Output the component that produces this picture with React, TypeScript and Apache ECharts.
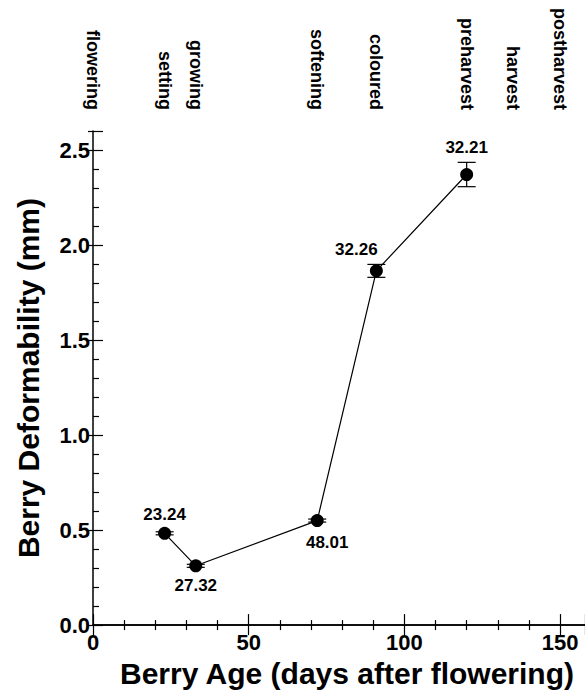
import React, { useEffect, useRef } from "react";
import * as echarts from "echarts";

// ---- data ----
const berryAge = [23, 33, 72, 91, 120];
const deformability = [0.483, 0.312, 0.55, 1.864, 2.371];
const deformabilityErr = [0.008, 0.008, 0.008, 0.034, 0.064];
const pointLabels = ["23.24", "27.32", "48.01", "32.26", "32.21"];
const stageNames = ["flowering", "setting", "growing", "softening", "coloured", "preharvest", "harvest", "postharvest"];
const stageDays = [0, 23, 33, 72, 91, 120, 135, 150];
const xTickValues = [0, 50, 100, 150];
const yTickValues = [0, 0.5, 1.0, 1.5, 2.0, 2.5];

const FONT = "'Liberation Sans', Arial, Helvetica, sans-serif";

// label placement (styling only)
const labelStyle = [
  { position: "top", distance: 4, offset: [0, 0] },
  { position: "bottom", distance: 5, offset: [0, 0] },
  { position: "bottom", distance: 7, offset: [10, 0] },
  { position: "top", distance: 6, offset: [-20, 0] },
  { position: "top", distance: 12, offset: [0, 0] },
];

export default function App() {
  const ref = useRef<HTMLDivElement>(null);
  useEffect(() => {
    if (!ref.current) return;
    const chart = echarts.init(ref.current, null, { renderer: "svg" });
    const lineColor = "#000";
    const lineData = berryAge.map((x, i) => ({
      value: [x, deformability[i]],
      label: {
        show: true,
        formatter: pointLabels[i],
        position: labelStyle[i].position as any,
        distance: labelStyle[i].distance,
        offset: labelStyle[i].offset,
        fontFamily: FONT,
        fontWeight: "bold",
        fontSize: 17,
        color: "#000",
      },
    }));
    const errData = berryAge.map((x, i) => [x, deformability[i] - deformabilityErr[i], deformability[i] + deformabilityErr[i]]);

    chart.setOption({
      animation: false,
      backgroundColor: "#fff",
      grid: { left: 93, right: 0, top: 131, bottom: 63.5, containLabel: false },
      xAxis: [
        {
          type: "value",
          position: "bottom",
          min: 0,
          max: 158,
          interval: 50,
          name: "Berry Age (days after flowering)",
          nameLocation: "middle",
          nameGap: 29,
          nameTextStyle: { fontFamily: FONT, fontWeight: "bold", fontSize: 30, color: "#000", padding: [0, 0, 0, 16] },
          axisLine: { show: true, lineStyle: { color: lineColor, width: 1.5 } },
          axisTick: { show: true, inside: true, length: 11, lineStyle: { color: lineColor, width: 1.2 } },
          minorTick: { show: true, splitNumber: 5, length: 5, lineStyle: { color: lineColor, width: 1.2 } },
          axisLabel: {
            customValues: xTickValues,
            fontFamily: FONT,
            fontWeight: "bold",
            fontSize: 22,
            color: "#000",
            margin: 6,
            formatter: (v: number) => String(v),
          },
          splitLine: { show: false },
        },
        {
          type: "value",
          position: "top",
          min: 0,
          max: 158,
          interval: 50,
          axisLine: { show: true, lineStyle: { color: lineColor, width: 1.5 } },
          axisTick: { show: true, inside: true, length: 10, lineStyle: { color: lineColor, width: 1.2 } },
          minorTick: { show: true, splitNumber: 5, length: 5, lineStyle: { color: lineColor, width: 1.2 } },
          axisLabel: { show: false },
          splitLine: { show: false },
        },
        {
          type: "value",
          position: "top",
          offset: 17,
          min: 0,
          max: 158,
          axisLine: { show: false },
          axisTick: { show: false },
          minorTick: { show: false },
          splitLine: { show: false },
          axisLabel: {
            customValues: stageDays,
            rotate: 90,
            margin: 4,
            fontFamily: FONT,
            fontWeight: "bold",
            fontSize: 18,
            color: "#000",
            formatter: (v: number) => {
              const idx = stageDays.indexOf(v);
              return idx >= 0 ? stageNames[idx] : "";
            },
          },
        },
      ],
      yAxis: [
        {
          type: "value",
          position: "left",
          min: 0,
          max: 2.6,
          interval: 0.5,
          name: "Berry Deformability (mm)",
          nameLocation: "middle",
          nameGap: 50,
          nameTextStyle: { fontFamily: FONT, fontWeight: "bold", fontSize: 30, color: "#000" },
          axisLine: { show: true, lineStyle: { color: lineColor, width: 1.5 } },
          axisTick: { show: true, inside: true, length: 10, lineStyle: { color: lineColor, width: 1.2 } },
          minorTick: { show: true, splitNumber: 5, length: 6, lineStyle: { color: lineColor, width: 1.2 } },
          axisLabel: {
            customValues: yTickValues,
            fontFamily: FONT,
            fontWeight: "bold",
            fontSize: 22,
            color: "#000",
            margin: 3,
            formatter: (v: number) => v.toFixed(1),
          },
          splitLine: { show: false },
        },
        {
          type: "value",
          position: "right",
          min: 0,
          max: 2.6,
          interval: 0.5,
          axisLine: { show: false },
          axisTick: { show: true, inside: true, length: 5, lineStyle: { color: lineColor, width: 1.2 } },
          minorTick: { show: false },
          axisLabel: { show: false },
          splitLine: { show: false },
        },
      ],
      series: [
        {
          type: "custom",
          xAxisIndex: 0,
          yAxisIndex: 0,
          encode: { x: 0, y: [1, 2] },
          data: errData,
          z: 3,
          renderItem: (params: any, api: any) => {
            const x = api.value(0);
            const lo = api.coord([x, api.value(1)]);
            const hi = api.coord([x, api.value(2)]);
            const hw = 9;
            const style = { stroke: "#000", lineWidth: 1.2, fill: "none" };
            return {
              type: "group",
              children: [
                { type: "line", shape: { x1: lo[0], y1: lo[1], x2: hi[0], y2: hi[1] }, style },
                { type: "line", shape: { x1: lo[0] - hw, y1: lo[1], x2: lo[0] + hw, y2: lo[1] }, style },
                { type: "line", shape: { x1: hi[0] - hw, y1: hi[1], x2: hi[0] + hw, y2: hi[1] }, style },
              ],
            };
          },
        },
        {
          type: "line",
          xAxisIndex: 0,
          yAxisIndex: 0,
          data: lineData,
          symbol: "circle",
          symbolSize: 13,
          z: 4,
          itemStyle: { color: "#000" },
          lineStyle: { color: "#000", width: 1.2 },
        },
      ],
    });
    return () => chart.dispose();
  }, []);
  return <div ref={ref} style={{ position: "fixed", left: 0, top: 0, width: 585, height: 693 }} />;
}
